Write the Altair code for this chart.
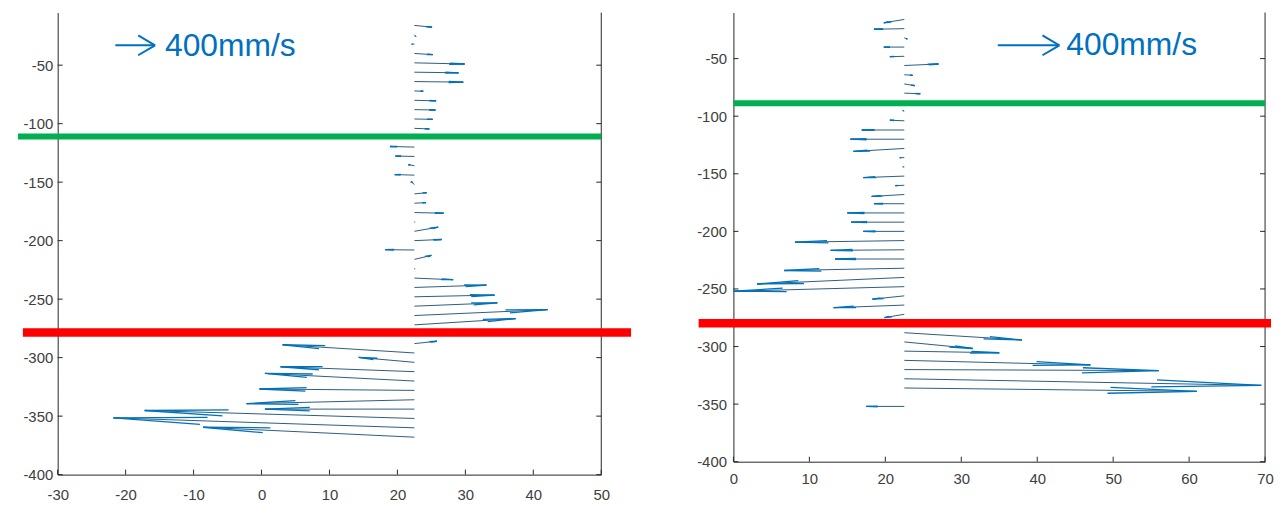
import altair as alt
import pandas as pd

# ---------------- data ----------------
origin_x = 22.5

left_depth = [-16, -24, -32, -40, -48, -56, -64, -72, -80, -88, -96, -104,
              -120, -128, -136, -144, -152, -160, -168, -176, -184, -192, -200,
              -208, -216, -224, -232, -240, -248, -256, -264, -272,
              -288, -296, -304, -312, -320, -328, -336, -344, -352, -360, -368]
left_tip_x = [25.1, 22.7, 22.1, 25.2, 29.9, 29.0, 29.7, 23.8, 25.7, 25.6, 25.2, 24.7,
              18.9, 19.7, 21.6, 19.6, 22.0, 24.3, 24.2, 26.8, 22.6, 26.0, 26.5,
              18.2, 25.0, 22.6, 28.2, 33.1, 34.3, 34.7, 42.1, 37.4,
              25.8, 3.1, 14.3, 2.8, 0.5, -0.3, -2.2, 0.5, -17.2, -21.8, -8.6]
left_tip_dy = [-1.5, -1.5, 0.0, -1.0, -1.0, -0.5, -0.5, -0.3, -0.5, -0.3, -0.3, -0.5,
               0.5, 0.3, 1.0, 0.5, 2.5, 1.0, 0.5, -0.5, 0.0, 3.5, 1.0,
               0.3, 3.4, 0.0, -1.4, 2.0, 1.5, 2.8, 5.0, 5.4,
               2.0, 7.0, 4.2, 4.2, 6.5, 1.2, -3.4, 0.0, 6.8, 8.5, 8.5]

right_depth = [-16, -24, -32, -40, -48, -56, -64, -72, -80,
               -96, -104, -112, -120, -128, -136, -144, -152, -160, -168, -176,
               -184, -192, -200, -208, -216, -224, -232, -240, -248, -256, -264, -272,
               -288, -296, -304, -312, -320, -328, -336, -352]
right_tip_x = [19.8, 18.5, 22.9, 19.8, 20.6, 27.0, 23.6, 23.9, 24.6,
               22.3, 20.6, 16.9, 15.4, 15.8, 21.9, 22.3, 17.1, 21.3, 18.2, 18.5,
               15.0, 15.5, 17.1, 8.1, 12.8, 13.4, 6.7, 3.1, 0.0, 18.3, 13.2, 19.9,
               38.0, 31.5, 35.0, 47.0, 56.0, 69.5, 61.0, 17.5]
right_tip_dy = [-2.9, -0.5, -1.0, 0.0, -0.3, 1.3, -0.5, -1.5, -0.5,
                1.0, 0.5, 0.0, 0.0, -2.6, 0.0, 0.0, -1.3, -0.3, -1.7, 0.0,
                0.0, 0.0, 0.0, -1.4, -0.5, 0.0, -2.0, -5.7, -4.0, -2.9, -2.3, -2.9,
                -6.3, -5.7, -1.4, -4.0, -0.9, -5.7, -2.9, 0.0]

left_x_ticks = [-30, -20, -10, 0, 10, 20, 30, 40, 50]
right_x_ticks = [0, 10, 20, 30, 40, 50, 60, 70]
y_ticks = [-400, -350, -300, -250, -200, -150, -100, -50]

left_green, left_red = -111.0, -278.5
right_green, right_red = -88.8, -279.7
scale_label = "400mm/s"

# ---------------- styling ----------------
FONT = "Liberation Sans"
AXIS_COL = "#404040"
BLUE = "#0070C0"
ALPHA, BETA = 0.3, 0.22


def segments(depth, tipx, tipdy):
    rows = []
    for d, tx, dy in zip(depth, tipx, tipdy):
        u, v = tx - origin_x, dy
        x1, y1 = tx, d + dy
        rows.append(dict(x=origin_x, y=d, x2=x1, y2=y1, part="shaft"))
        rows.append(dict(x=x1 - ALPHA * (u + BETA * v), y=y1 - ALPHA * (v - BETA * u),
                         x2=x1, y2=y1, part="head"))
        rows.append(dict(x=x1 - ALPHA * (u - BETA * v), y=y1 - ALPHA * (v + BETA * u),
                         x2=x1, y2=y1, part="head"))
    return pd.DataFrame(rows)


def panel(depth, tipx, tipdy, xdom, ydom, xticks, W, H, green, red,
          green_px, red_px, arrow_px, text_px, ylabpad, xlabpad):
    xs = alt.Scale(domain=xdom, nice=False, zero=False)
    ys = alt.Scale(domain=ydom, nice=False, zero=False)
    seg = segments(depth, tipx, tipdy)

    xaxis = alt.Axis(values=xticks, title=None, grid=False, tickSize=0,
                     labelFlush=False, labelOverlap=False, labelPadding=xlabpad,
                     labelExpr="toString(datum.value)",
                     domainColor="#262626", labelColor=AXIS_COL,
                     labelFont=FONT, labelFontSize=15)
    yaxis = alt.Axis(values=y_ticks, title=None, grid=False, tickSize=0,
                     labelFlush=False, labelOverlap=False, labelPadding=ylabpad,
                     labelExpr="toString(datum.value)",
                     domainColor="#262626", labelColor=AXIS_COL,
                     labelFont=FONT, labelFontSize=15)

    shafts = alt.Chart(seg[seg.part == "shaft"]).mark_rule(
        color="#2c5d82", strokeWidth=1).encode(
        x=alt.X("x:Q", scale=xs, axis=xaxis),
        y=alt.Y("y:Q", scale=ys, axis=yaxis),
        x2="x2:Q", y2="y2:Q")
    heads = alt.Chart(seg[seg.part == "head"]).mark_rule(
        color="#0072BD", strokeWidth=1.3).encode(
        x=alt.X("x:Q", scale=xs), y=alt.Y("y:Q", scale=ys),
        x2="x2:Q", y2="y2:Q")

    ytk = pd.DataFrame({"v": y_ticks})
    xtk = pd.DataFrame({"v": xticks})
    tick_l = alt.Chart(ytk).mark_rule(color="#262626").encode(
        y=alt.Y("v:Q", scale=ys), x=alt.value(0), x2=alt.value(5))
    tick_r = alt.Chart(ytk).mark_rule(color="#262626").encode(
        y=alt.Y("v:Q", scale=ys), x=alt.value(W - 5), x2=alt.value(W))
    tick_b = alt.Chart(xtk).mark_rule(color="#262626").encode(
        x=alt.X("v:Q", scale=xs), y=alt.value(H - 5), y2=alt.value(H))
    frame_r = alt.Chart(ytk.head(1)).mark_rule(color="#262626").encode(
        x=alt.value(W), y=alt.value(0), y2=alt.value(H))

    g = alt.Chart(pd.DataFrame({"v": [green]})).mark_rule(
        color="#00B050", strokeWidth=6).encode(
        y=alt.Y("v:Q", scale=ys), x=alt.value(green_px[0]), x2=alt.value(green_px[1]))
    r = alt.Chart(pd.DataFrame({"v": [red]})).mark_rule(
        color="#FF0000", strokeWidth=8.5).encode(
        y=alt.Y("v:Q", scale=ys), x=alt.value(red_px[0]), x2=alt.value(red_px[1]))

    a0, a1, ay = arrow_px
    ann_df = pd.DataFrame({"label": [scale_label]})
    shaft_ann = alt.Chart(ann_df).mark_rule(color=BLUE, strokeWidth=2).encode(
        x=alt.value(a0), x2=alt.value(a1), y=alt.value(ay), y2=alt.value(ay))
    head_up = alt.Chart(ann_df).mark_rule(color=BLUE, strokeWidth=2).encode(
        x=alt.value(a1 - 17), x2=alt.value(a1), y=alt.value(ay - 10), y2=alt.value(ay))
    head_dn = alt.Chart(ann_df).mark_rule(color=BLUE, strokeWidth=2).encode(
        x=alt.value(a1 - 17), x2=alt.value(a1), y=alt.value(ay + 10), y2=alt.value(ay))
    txt = alt.Chart(ann_df).mark_text(
        align="left", baseline="alphabetic", fontSize=32, font=FONT, color=BLUE).encode(
        x=alt.value(text_px[0]), y=alt.value(text_px[1]), text="label:N")

    return alt.layer(shafts, heads, tick_l, tick_r, tick_b, frame_r, g, r,
                     shaft_ann, head_up, head_dn, txt).properties(width=W, height=H)


left = panel(left_depth, left_tip_x, left_tip_dy, [-30, 50], [-400, -5], left_x_ticks,
             547, 465, left_green, left_red,
             green_px=(-40, 547), red_px=(-35, 577),
             arrow_px=(58, 98, 33), text_px=(108, 44), ylabpad=5, xlabpad=13)
right = panel(right_depth, right_tip_x, right_tip_dy, [0, 70], [-400, -10], right_x_ticks,
              535, 452, right_green, right_red,
              green_px=(0, 535), red_px=(-35, 541),
              arrow_px=(266, 328, 33), text_px=(335, 43), ylabpad=7, xlabpad=10)

chart = alt.hconcat(left, right, spacing=133, bounds="flush").properties(
    padding={"left": 7, "top": 2, "right": 0, "bottom": 0},
).configure_view(stroke=None)

chart.save("out.html", embed_options={"renderer": "svg", "actions": False})
